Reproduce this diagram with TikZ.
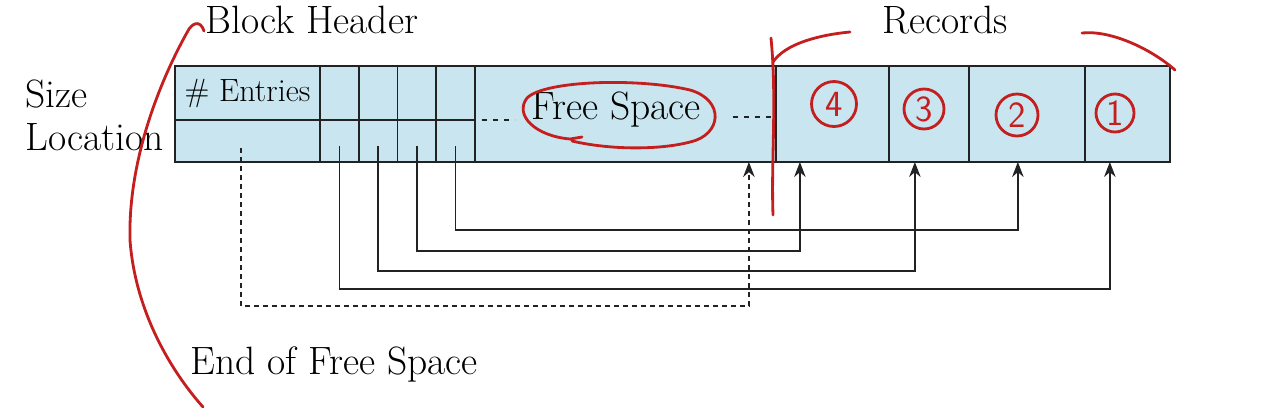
\documentclass[tikz,border=0pt]{standalone}
\usepackage{fontspec}
\usetikzlibrary{arrows.meta,positioning,calc}
\definecolor{slotblue}{HTML}{C9E6F0}
\definecolor{edge}{HTML}{222222}
\definecolor{pen}{HTML}{C41E1E}
\tikzset{
  >={Stealth[length=3mm,width=2.3mm]},
  cell/.style={draw=edge,fill=slotblue,line width=0.9pt,inner sep=0pt,outer sep=0pt,minimum height=10.8mm},
  txt/.style={font=\fontsize{22.5}{26}\selectfont,inner sep=0pt,text=black},
  ptr/.style={->,draw=edge,line width=0.9pt},
  dptr/.style={->,draw=edge,line width=0.9pt,dash pattern=on 1mm off 0.8mm},
  dsh/.style={draw=edge,line width=0.9pt,dash pattern=on 1mm off 1.2mm},
  ink/.style={draw=pen,line width=1.6pt,line cap=round,line join=round},
  num/.style={ink,circle,minimum size=8.4mm,inner sep=0pt,text=pen,font=\sffamily\fontsize{21}{21}\selectfont},
}
\begin{document}
\begin{tikzpicture}[x=0.02cm,y=-0.02cm]
\useasboundingbox (0,0) rectangle (1280,407);
% block header
\node[cell,minimum width=29mm,font=\fontsize{18.3}{20}\selectfont] (entries) at (247.5,93) {\# Entries};
\node[cell,minimum width=29mm,minimum height=8.4mm,below=0pt of entries] (eof) {};
\node[cell,minimum width=7.75mm,right=0pt of entries] (s1t) {};
\node[cell,minimum width=7.75mm,right=0pt of s1t] (s2t) {};
\node[cell,minimum width=7.75mm,right=0pt of s2t] (s3t) {};
\node[cell,minimum width=7.75mm,right=0pt of s3t] (s4t) {};
\node[cell,minimum width=7.75mm,minimum height=8.4mm,below=0pt of s1t] (s1) {};
\node[cell,minimum width=7.75mm,minimum height=8.4mm,below=0pt of s2t] (s2) {};
\node[cell,minimum width=7.75mm,minimum height=8.4mm,below=0pt of s3t] (s3) {};
\node[cell,minimum width=7.75mm,minimum height=8.4mm,below=0pt of s4t] (s4) {};
% free space and records
\node[cell,anchor=north west,minimum width=60.2mm,minimum height=19.2mm] (free) at (s4t.north east) {};
\node[cell,anchor=north west,minimum width=22.6mm,minimum height=19.2mm] (r4) at (free.north east) {};
\node[cell,minimum width=16mm,minimum height=19.2mm,right=0pt of r4] (r3) {};
\node[cell,minimum width=23.2mm,minimum height=19.2mm,right=0pt of r3] (r2) {};
\node[cell,minimum width=17mm,minimum height=19.2mm,right=0pt of r2] (r1) {};
\node[txt] (fs) at (616,110) {Free Space};
\draw[dsh] ([xshift=1.4mm]s4t.south east) -- ++(6.6mm,0);
\draw[dsh] ([xshift=-8.6mm,yshift=-0.6mm]free.east) -- ([yshift=-0.6mm]free.east);
% labels
\node[txt,anchor=west] (size) at (25,94) {Size};
\node[txt,anchor=west] (loc) at (25,137) {Location};
\node[txt,anchor=west] (bh) at (205,20) {Block Header};
\node[txt] (rec) at (945,20) {Records};
\node[txt,anchor=west] (end) at (190,364) {End of Free Space};
% pointers
\coordinate (t4) at ([xshift=4.8mm]r4.south west);
\coordinate (t3) at ([xshift=5.2mm]r3.south west);
\coordinate (t2) at ([xshift=9.8mm]r2.south west);
\coordinate (t1) at ([xshift=5mm]r1.south west);
\coordinate (tf) at ([xshift=-5.4mm]free.south east);
\draw[ptr] ([yshift=-1mm]s4.center) |- (t2 |- 0,230) -- (t2);
\draw[ptr] ([yshift=-1mm]s3.center) |- (t4 |- 0,251) -- (t4);
\draw[ptr] ([yshift=-1mm]s2.center) |- (t3 |- 0,271) -- (t3);
\draw[ptr] ([yshift=-1mm]s1.center) |- (t1 |- 0,289) -- (t1);
\draw[dptr] ([xshift=-1.3mm,yshift=-1.4mm]eof.center) |- (tf |- 0,306) -- (tf);
% red notes
\draw[ink] (204,31) .. controls (201,22) and (195,21) .. (189,29) .. controls (160,80) and (128,160) .. (130,240) .. controls (135,310) and (170,370) .. (203,407);
\draw[ink] (771,38) .. controls (777,100) and (771,160) .. (773,215);
\draw[ink] (773,62) .. controls (785,44) and (818,35) .. (850,32);
\draw[ink] (1082,33) .. controls (1110,30) and (1150,48) .. (1175,70);
\draw[ink] (582,137) -- (570,139) .. controls (535,136) and (514,115) .. (527,98) .. controls (545,80) and (640,78) .. (690,90) .. controls (725,100) and (722,135) .. (690,142) .. controls (660,150) and (610,150) .. (572,141);
\node[num,minimum size=9mm] (n4) at (834,104) {4};
\node[num,minimum size=8mm] (n3) at (924,109) {3};
\node[num] (n2) at (1017,115) {2};
\node[num,minimum size=7.6mm] (n1) at (1115,113) {1};
\end{tikzpicture}
\end{document}
